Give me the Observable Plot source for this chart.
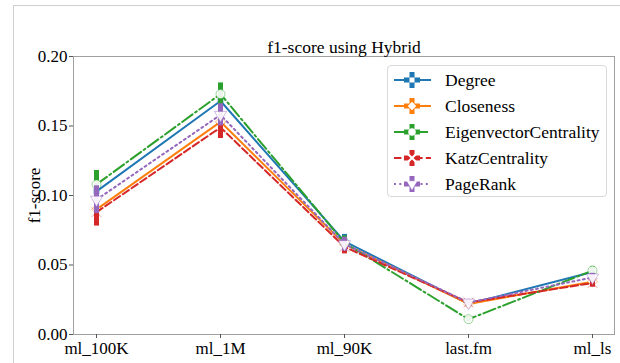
<!DOCTYPE html>
<html><head><meta charset="utf-8">
<script src="https://cdn.jsdelivr.net/npm/d3@7"></script>
<script src="https://cdn.jsdelivr.net/npm/@observablehq/plot@0.6"></script>
<style>
body{margin:0;background:#fff;font-family:'Liberation Serif','Times New Roman',serif;color:#000;}
#wrap{position:relative;width:620px;height:363px;overflow:hidden;}
#outer{position:absolute;left:13px;top:5px;width:700px;height:500px;border-top:1px solid #cfcfcf;border-left:1px solid #cfcfcf;}
#chart{position:absolute;left:0;top:0;}
#legend{position:absolute;left:387px;top:65px;width:220px;height:132px;box-sizing:border-box;border:1px solid #d9d9d9;border-radius:4px;background:rgba(255,255,255,0.85);}
.row{position:absolute;left:0;height:24px;width:218px;}
.row svg{position:absolute;left:0;top:0;}
.row span{position:absolute;left:57px;top:1px;font-size:17.5px;line-height:22px;white-space:nowrap;}
</style></head><body>
<div id="wrap"><div id="outer"></div><div id="chart"></div><div id="legend"></div></div>
<script>
const datasets = ["ml_100K", "ml_1M", "ml_90K", "last.fm", "ml_ls"];
const seriesNames = ["Degree", "Closeness", "EigenvectorCentrality", "KatzCentrality", "PageRank"];
const seriesColors = ["#1f77b4", "#ff7f0e", "#2ca02c", "#d62728", "#9467bd"];
const seriesDash = [null, null, "12.8,3.2,2,3.2", "7.4,3.2", "2,3.3"];
const seriesSymbols = ["square", "diamond2", "circle", "times", "triangle"];
const seriesRotate = [0, 0, 0, 0, 180];
const degree      = [0.103, 0.168, 0.067, 0.022, 0.045];
const closeness   = [0.090, 0.153, 0.065, 0.022, 0.038];
const eigenvector = [0.108, 0.173, 0.066, 0.011, 0.046];
const katz        = [0.088, 0.149, 0.063, 0.023, 0.037];
const pagerank    = [0.097, 0.158, 0.065, 0.023, 0.041];
const errDegree      = [0.010, 0.008, 0.005, 0.002, 0.003];
const errCloseness   = [0.010, 0.008, 0.005, 0.002, 0.003];
const errEigenvector = [0.010, 0.008, 0.005, 0.002, 0.003];
const errKatz        = [0.010, 0.008, 0.005, 0.002, 0.003];
const errPagerank    = [0.010, 0.008, 0.005, 0.002, 0.003];
const yTicks = [0, 0.05, 0.10, 0.15, 0.20];

const allValues = [degree, closeness, eigenvector, katz, pagerank];
const allErrors = [errDegree, errCloseness, errEigenvector, errKatz, errPagerank];
const serifFont = "'Liberation Serif','Times New Roman',serif";

const seriesMarks = [];
seriesNames.forEach((name, i) => {
  const rows = datasets.map((d, j) => ({dataset: d, v: allValues[i][j], e: allErrors[i][j]}));
  seriesMarks.push(
    Plot.ruleX(rows, {x: "dataset", y1: r => r.v - r.e, y2: r => r.v + r.e, stroke: seriesColors[i], strokeWidth: 5}),
    Plot.lineY(rows, {x: "dataset", y: "v", stroke: seriesColors[i], strokeWidth: 2, strokeDasharray: seriesDash[i]}),
    Plot.dot(rows, {x: "dataset", y: "v", symbol: seriesSymbols[i], rotate: seriesRotate[i], r: i === 0 ? 3 : 4.5,
      fill: "white", fillOpacity: 0.9, stroke: seriesColors[i], strokeOpacity: 0.45, strokeWidth: 1})
  );
});

const chart = Plot.plot({
  width: 620, height: 363,
  marginLeft: 73, marginRight: 6, marginTop: 56, marginBottom: 29,
  style: {fontFamily: serifFont, fontSize: "17px", background: "transparent", color: "#000", overflow: "visible"},
  x: {type: "point", domain: datasets, padding: 0.18},
  y: {domain: [0, 0.2]},
  marks: [
    ...seriesMarks,
    Plot.frame({stroke: "#a0a0a0"}),
    Plot.axisX({tickSize: 4, tickPadding: 3, label: null, fontSize: 17, stroke: "#555", fontFamily: serifFont}),
    Plot.axisY({ticks: yTicks, tickFormat: d3.format(".2f"), tickSize: 4, tickPadding: 2, fontSize: 17, fontFamily: serifFont,
      label: "f1-score", labelAnchor: "center", labelArrow: "none", labelOffset: 46, stroke: "#555"}),
    Plot.text(["f1-score using Hybrid"], {frameAnchor: "top", dy: -4, lineAnchor: "bottom", fontSize: 17.5, fill: "#000", fontFamily: serifFont})
  ]
});
document.getElementById("chart").appendChild(chart);

const symbolMap = {square: d3.symbolSquare, diamond2: d3.symbolDiamond2, circle: d3.symbolCircle, times: d3.symbolTimes, triangle: d3.symbolTriangle};
const legend = d3.select("#legend");
seriesNames.forEach((name, i) => {
  const row = legend.append("div").attr("class", "row").style("top", (2 + i * 26) + "px");
  const svg = row.append("svg").attr("width", 50).attr("height", 24);
  const cx = 24, cy = 12;
  svg.append("line").attr("x1", 6).attr("x2", 43).attr("y1", cy).attr("y2", cy)
    .attr("stroke", seriesColors[i]).attr("stroke-width", 2).attr("stroke-dasharray", seriesDash[i]);
  svg.append("rect").attr("x", cx - 2.5).attr("y", cy - 8).attr("width", 5).attr("height", 16).attr("fill", seriesColors[i]);
  svg.append("rect").attr("x", cx - 8).attr("y", cy - 2.5).attr("width", 16).attr("height", 5).attr("fill", seriesColors[i]);
  svg.append("path").attr("transform", `translate(${cx},${cy}) rotate(${seriesRotate[i]})`)
    .attr("d", d3.symbol().type(symbolMap[seriesSymbols[i]]).size(i === 0 ? 20 : 40)())
    .attr("fill", seriesSymbols[i] === "times" ? "none" : "white")
    .attr("stroke", "white").attr("stroke-width", seriesSymbols[i] === "times" ? 2 : 0.5);
  row.append("span").text(name);
});
</script>
</body></html>
